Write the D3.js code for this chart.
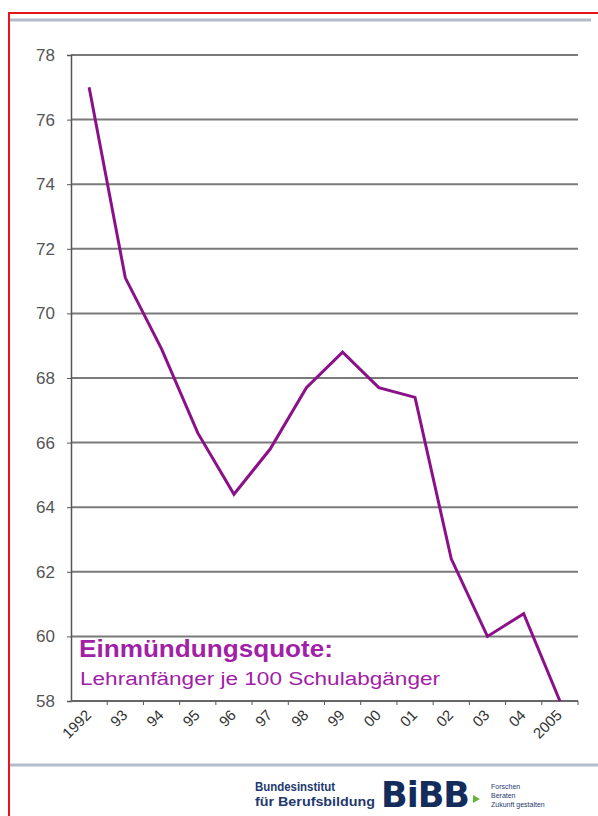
<!DOCTYPE html>
<html>
<head>
<meta charset="utf-8">
<script src="https://cdn.jsdelivr.net/npm/d3@7"></script>
<style>
  body { margin: 0; background: #fff; }
  svg { display: block; font-family: "Liberation Sans", Arial, sans-serif; }
</style>
</head>
<body>
<svg width="598" height="816"></svg>
<script>
let years = ['1992', '93', '94', '95', '96', '97', '98', '99', '00', '01', '02', '03', '04', '2005']
let quote = [77.0, 71.1, 68.9, 66.3, 64.4, 65.8, 67.7, 68.8, 67.7, 67.4, 62.4, 60.0, 60.7, 58.0]
let yTicks = [58, 60, 62, 64, 66, 68, 70, 72, 74, 76, 78]

let svg = d3.select('svg')
let plotLeft = 71, plotRight = 578, plotTop = 55, plotBottom = 701

let x = d3.scaleBand().domain(years).range([plotLeft, plotRight])
let y = d3.scaleLinear().domain([58, 78]).range([plotBottom, plotTop])

// frame
svg.append('line').attr('x1', 9).attr('x2', 598).attr('y1', 13).attr('y2', 13)
  .attr('stroke', '#e8141c').attr('stroke-width', 2)
svg.append('line').attr('x1', 9).attr('x2', 9).attr('y1', 12).attr('y2', 816)
  .attr('stroke', '#e8141c').attr('stroke-width', 2)
svg.append('line').attr('x1', 10).attr('x2', 591).attr('y1', 20).attr('y2', 20)
  .attr('stroke', '#b3bccb').attr('stroke-width', 3)
svg.append('line').attr('x1', 10).attr('x2', 598).attr('y1', 765).attr('y2', 765)
  .attr('stroke', '#b3bccb').attr('stroke-width', 3)

// grid
svg.append('g').selectAll('line').data(yTicks.slice(1)).join('line')
  .attr('x1', plotLeft).attr('x2', plotRight)
  .attr('y1', d => y(d)).attr('y2', d => y(d))
  .attr('stroke', '#7a7a7a').attr('stroke-width', 2)

// y axis
let yAxis = svg.append('g').attr('transform', `translate(${plotLeft},0)`)
  .call(d3.axisLeft(y).tickValues(yTicks).tickSize(4).tickPadding(12))
yAxis.select('.domain').attr('stroke', '#555').attr('stroke-width', 1.5)
yAxis.selectAll('.tick line').attr('stroke', '#555')
yAxis.selectAll('text').attr('font-size', 17).attr('fill', '#555')
  .style('font-family', '"Liberation Sans", Arial, sans-serif')

// x axis: ticks between categories
let xg = svg.append('g').attr('transform', `translate(0,${plotBottom})`)
xg.append('line').attr('x1', plotLeft).attr('x2', plotRight).attr('stroke', '#666').attr('stroke-width', 2)
xg.selectAll('.tk').data(years).join('line').attr('class', 'tk')
  .attr('x1', d => x(d) + x.bandwidth()).attr('x2', d => x(d) + x.bandwidth())
  .attr('y1', 0).attr('y2', 4).attr('stroke', '#555')
xg.selectAll('text').data(years).join('text')
  .attr('transform', d => `translate(${x(d) + x.bandwidth() / 2 + 3},${15}) rotate(-45)`)
  .attr('text-anchor', 'end')
  .attr('font-size', 15).attr('fill', '#333')
  .text(d => d)

// line
let line = d3.line().x((d, i) => x(years[i]) + x.bandwidth() / 2).y(d => y(d))
svg.append('path').datum(quote)
  .attr('d', line).attr('fill', 'none')
  .attr('stroke', '#8a118a').attr('stroke-width', 3).attr('stroke-linejoin', 'miter')

// title
svg.append('text').attr('x', 79).attr('y', 657).attr('font-size', 24).attr('font-weight', 'bold')
  .attr('textLength', 254).attr('lengthAdjust', 'spacingAndGlyphs')
  .attr('fill', '#a021a6').text('Einmündungsquote:')
svg.append('text').attr('x', 80).attr('y', 685).attr('font-size', 18)
  .attr('textLength', 360).attr('lengthAdjust', 'spacingAndGlyphs')
  .attr('fill', '#a021a6').text('Lehranfänger je 100 Schulabgänger')

// logo
let logo = svg.append('g').attr('fill', '#1f3a6e').attr('font-weight', 'bold')
logo.append('text').attr('x', 255).attr('y', 791).attr('font-size', 12.5)
  .attr('textLength', 80).attr('lengthAdjust', 'spacingAndGlyphs').text('Bundesinstitut')
logo.append('text').attr('x', 255).attr('y', 806).attr('font-size', 12.5)
  .attr('textLength', 120).attr('lengthAdjust', 'spacingAndGlyphs').text('für Berufsbildung')
logo.append('text').attr('x', 381).attr('y', 807).attr('font-size', 35).attr('fill', '#142c5c')
  .attr('font-family', '"DejaVu Sans", sans-serif').style('letter-spacing', '-1px').text('BiBB')
logo.append('path').attr('d', 'M473,795 L480,799 L473,803 Z').attr('fill', '#6cb33e')
let small = svg.append('g').attr('fill', '#1f3a6e').attr('font-size', 7)
small.append('text').attr('x', 491).attr('y', 789).text('Forschen')
small.append('text').attr('x', 491).attr('y', 798).text('Beraten')
small.append('text').attr('x', 491).attr('y', 807).text('Zukunft gestalten')
</script>
</body>
</html>
